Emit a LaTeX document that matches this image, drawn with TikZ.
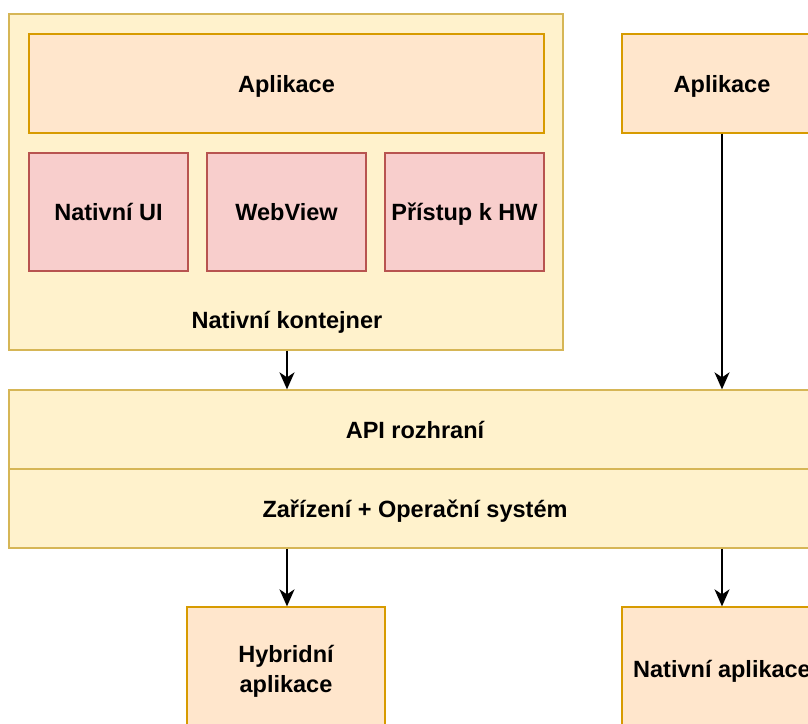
\documentclass[tikz,border=0pt]{standalone}
\usepackage{fontspec}
\setmainfont{Liberation Sans}
\usetikzlibrary{arrows.meta}
\definecolor{ylfill}{HTML}{FFF2CC}
\definecolor{ylline}{HTML}{D6B656}
\definecolor{orfill}{HTML}{FFE6CC}
\definecolor{orline}{HTML}{D79B00}
\definecolor{rdfill}{HTML}{F8CECC}
\definecolor{rdline}{HTML}{B85450}
\tikzset{
  box/.style={draw, line width=1.3pt, inner sep=0pt, anchor=center,
    font=\fontsize{23.5}{30}\selectfont\bfseries, align=center, text=black, text depth=0pt},
  ybox/.style={box, fill=ylfill, draw=ylline},
  obox/.style={box, fill=orfill, draw=orline},
  rbox/.style={box, fill=rdfill, draw=rdline},
  lbl/.style={font=\fontsize{23.5}{30}\selectfont\bfseries, text=black, inner sep=0pt},
  conn/.style={line width=1.6pt, -{Stealth[length=17pt,width=15pt,inset=5pt]}}
}
\begin{document}
\begin{tikzpicture}[x=1pt,y=-1pt]
\useasboundingbox (0,0) rectangle (808,723);
\clip (0,0) rectangle (808,723);
\fill[white] (0,0) rectangle (808,723);
% container
\node[ybox, minimum width=554pt, minimum height=336pt] (cont) at (286,182) {};
\node[lbl] (contlbl) at (287,322) {Nativní kontejner};
\node[obox, minimum width=515pt, minimum height=99pt] (appL) at (286.5,83.5) {Aplikace};
\node[rbox, minimum width=159pt, minimum height=118pt] (ui) at (108.5,212) {Nativní UI};
\node[rbox, minimum width=159pt, minimum height=118pt] (wv) at (286.5,212) {WebView};
\node[rbox, minimum width=159pt, minimum height=118pt] (hw) at (464.5,212) {Přístup k HW};
% right app
\node[obox, minimum width=200pt, minimum height=99pt] (appR) at (722,83.5) {Aplikace};
% API and OS
\node[ybox, minimum width=812pt, minimum height=79pt] (api) at (415,429.5) {API rozhraní};
\node[ybox, minimum width=812pt, minimum height=79pt] (os) at (415,508.5) {Zařízení + Operační systém};
% bottom
\node[obox, minimum width=198pt, minimum height=124pt] (hyb) at (286,669) {Hybridní\\aplikace};
\node[obox, minimum width=200pt, minimum height=124pt] (nat) at (722,669) {Nativní aplikace};
% arrows
\draw[conn] (cont.south -| contlbl.center) -- (api.north -| contlbl.center);
\draw[conn] (appR.south) -- (api.north -| appR.south);
\draw[conn] (os.south -| contlbl.center) -- (hyb.north -| contlbl.center);
\draw[conn] (os.south -| nat.north) -- (nat.north);
\end{tikzpicture}
\end{document}
